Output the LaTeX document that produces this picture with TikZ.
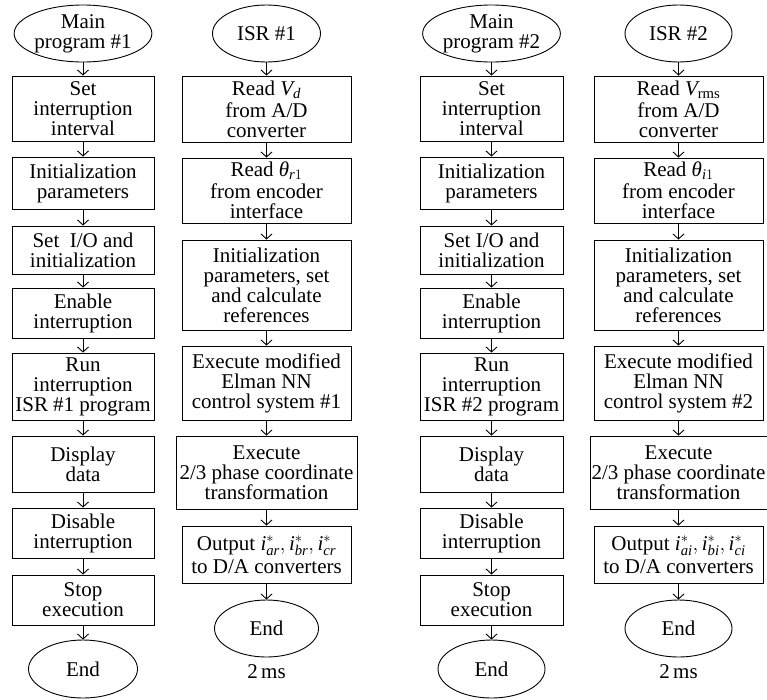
\documentclass[tikz,border=0pt]{standalone}
\usepackage{amsmath}
\usepackage{fontspec}
\setmainfont{Liberation Serif}
\usetikzlibrary{shapes.geometric,arrows.meta}
\newcommand{\vi}[1]{\textit{#1}}
\begin{document}
\begin{tikzpicture}[x=1pt,y=-1pt,
  font=\fontsize{21}{20}\selectfont,
  box/.style={draw, line width=0.9pt, rectangle, align=center, inner sep=1pt},
  oval/.style={draw, line width=0.9pt, ellipse, align=center, inner sep=0pt},
  flow/.style={draw, line width=0.9pt, -{Straight Barb[length=5pt,width=11pt]}}]
\useasboundingbox (0,0) rectangle (767,699);

% Column 1: Main program #1
\node[oval, minimum width=124pt, minimum height=57pt] (m1) at (83,33.5) {Main\\program \#1};
\node[box, minimum width=142pt, minimum height=65pt] (a1) at (83,108.5) {Set\\interruption\\interval};
\node[box, minimum width=142pt, minimum height=52pt] (a2) at (83,183) {Initialization\\parameters};
\node[box, minimum width=142pt, minimum height=48pt] (a3) at (83,250) {Set~~I/O and\\initialization};
\node[box, minimum width=142pt, minimum height=50pt] (a4) at (83,313) {Enable\\interruption};
\node[box, minimum width=142pt, minimum height=67pt] (a5) at (83,386.5) {Run\\interruption\\ISR \#1 program};
\node[box, minimum width=142pt, minimum height=56pt] (a6) at (83,464) {Display\\data};
\node[box, minimum width=142pt, minimum height=50pt] (a7) at (83,533) {Disable\\interruption};
\node[box, minimum width=142pt, minimum height=50pt] (a8) at (83,600) {Stop\\execution};
\node[oval, minimum width=109pt, minimum height=58pt] (e1) at (83,669) {End};

% Column 2: ISR #1
\node[oval, minimum width=108pt, minimum height=57pt] (i1) at (266.5,33.5) {ISR \#1};
\node[box, minimum width=169pt, minimum height=66pt] (b1) at (266.5,109) {Read $\vi{V}_{\vi{d}}$\\[2pt]from A/D\\converter};
\node[box, minimum width=169pt, minimum height=65pt] (b2) at (266.5,190.5) {Read $\vi{θ}_{\vi{r}1}$\\[2pt]from encoder\\interface};
\node[box, minimum width=169pt, minimum height=90pt] (b3) at (266.5,285) {Initialization\\parameters, set\\and calculate\\references};
\node[box, minimum width=169pt, minimum height=74pt] (b4) at (266.5,383) {Execute modified\\Elman NN\\control system \#1};
\node[box, minimum width=181pt, minimum height=73pt] (b5) at (266.5,472.5) {Execute\\2/3 phase coordinate\\transformation};
\node[box, minimum width=169pt, minimum height=57pt] (b6) at (266.5,554.5) {Output $\vi{i}^{*}_{\vi{ar}}, \vi{i}^{*}_{\vi{br}}, \vi{i}^{*}_{\vi{cr}}$\\[3pt]to D/A converters};
\node[oval, minimum width=104pt, minimum height=57pt] (f1) at (266.5,628.5) {End};
\node (t1) at (266.5,672) {2\,ms};

% Column 3: Main program #2
\node[oval, minimum width=124pt, minimum height=57pt] (m2) at (491.5,33.5) {Main\\program \#2};
\node[box, minimum width=143pt, minimum height=65pt] (c1) at (491.5,108.5) {Set\\interruption\\interval};
\node[box, minimum width=143pt, minimum height=52pt] (c2) at (491.5,183) {Initialization\\parameters};
\node[box, minimum width=143pt, minimum height=48pt] (c3) at (491.5,250) {Set I/O and\\initialization};
\node[box, minimum width=143pt, minimum height=50pt] (c4) at (491.5,313) {Enable\\interruption};
\node[box, minimum width=143pt, minimum height=67pt] (c5) at (491.5,386.5) {Run\\interruption\\ISR \#2 program};
\node[box, minimum width=143pt, minimum height=56pt] (c6) at (491.5,464) {Display\\data};
\node[box, minimum width=143pt, minimum height=50pt] (c7) at (491.5,533) {Disable\\interruption};
\node[box, minimum width=143pt, minimum height=50pt] (c8) at (491.5,600) {Stop\\execution};
\node[oval, minimum width=107pt, minimum height=58pt] (e2) at (491.5,669) {End};

% Column 4: ISR #2
\node[oval, minimum width=107pt, minimum height=57pt] (i2) at (678.5,33.5) {ISR \#2};
\node[box, minimum width=169pt, minimum height=66pt] (d1) at (678.5,109) {Read $\vi{V}_{\text{rms}}$\\[2pt]from A/D\\converter};
\node[box, minimum width=169pt, minimum height=65pt] (d2) at (678.5,190.5) {Read $\vi{θ}_{\vi{i}1}$\\[2pt]from encoder\\interface};
\node[box, minimum width=169pt, minimum height=90pt] (d3) at (678.5,285) {Initialization\\parameters, set\\and calculate\\references};
\node[box, minimum width=169pt, minimum height=74pt] (d4) at (678.5,383) {Execute modified\\Elman NN\\control system \#2};
\node[box, minimum width=177pt, minimum height=73pt] (d5) at (678.5,472.5) {Execute\\2/3 phase coordinate\\transformation};
\node[box, minimum width=169pt, minimum height=57pt] (d6) at (678.5,554.5) {Output $\vi{i}^{*}_{\vi{ai}}, \vi{i}^{*}_{\vi{bi}}, \vi{i}^{*}_{\vi{ci}}$\\[3pt]to D/A converters};
\node[oval, minimum width=107pt, minimum height=57pt] (f2) at (678.5,628.5) {End};
\node (t2) at (678.5,672) {2\,ms};

% Connectors
\foreach \p/\q in {m1/a1,a1/a2,a2/a3,a3/a4,a4/a5,a5/a6,a6/a7,a7/a8,a8/e1,
                   i1/b1,b1/b2,b2/b3,b3/b4,b4/b5,b5/b6,b6/f1,
                   m2/c1,c1/c2,c2/c3,c3/c4,c4/c5,c5/c6,c6/c7,c7/c8,c8/e2,
                   i2/d1,d1/d2,d2/d3,d3/d4,d4/d5,d5/d6,d6/f2}
  \draw[flow] (\p) -- (\q);
\end{tikzpicture}
\end{document}
